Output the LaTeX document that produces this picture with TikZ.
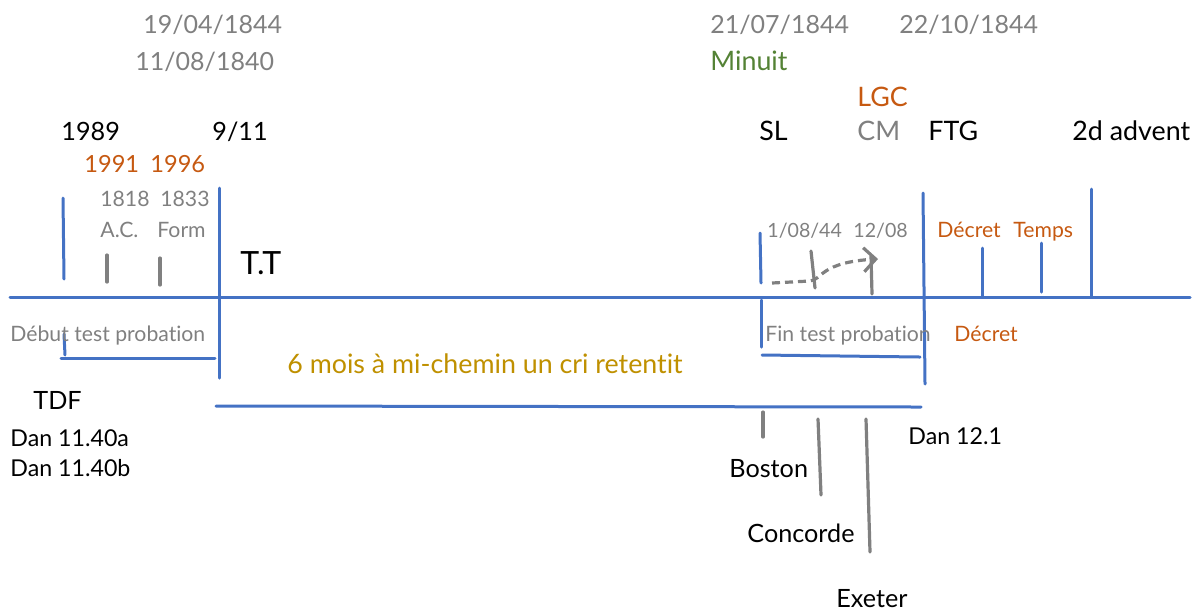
\documentclass[tikz,border=0pt]{standalone}
\usepackage{fontspec}
\setmainfont{Lato}[Ligatures=NoCommon]
\usetikzlibrary{arrows,arrows.meta,calc}
\usepackage{tkz-euclide}

\definecolor{bleu}{HTML}{4472C4}
\definecolor{gris}{HTML}{808080}
\definecolor{rouille}{HTML}{C65911}
\definecolor{ocre}{HTML}{BF9000}
\definecolor{vert}{HTML}{548235}

\tikzset{
  lbl/.style={inner sep=0pt,anchor=west,text height=1.8ex,text depth=0pt},
  date/.style={lbl,font=\fontsize{12.5}{15}\selectfont},
  grand/.style={lbl,font=\fontsize{13.4}{15}\selectfont},
  moyen/.style={lbl,font=\fontsize{12.6}{14}\selectfont},
  petit/.style={lbl,font=\fontsize{10.6}{12}\selectfont},
  trait gris/.style={line width=1.6pt,color=gris},
}

\begin{document}
\begin{tikzpicture}[x=.5pt,y=-.5pt]
\useasboundingbox (0,0) rectangle (1202,612);
\tkzSetUpLine[line width=1.5pt,color=bleu]

% axe et traits bleus
\tkzDefPoints{10/297/L,1190/297/R,
  63/198/A1,64/279/A2,219/188/B1,219/378/B2,
  64/334/C1,65/355/C2,61/358/D1,215/358/D2,
  216/406/E1,921/407/E2,
  760/233/F1,761/283/F2,761/300/G1,761/347/G2,
  762/355/H1,920/357/H2,923/193/K1,925/384/K2,
  982/248/M1,982/297/M2,1041/243/N1,1041/292/N2,
  1091/189/P1,1091/297/P2}
\tkzDrawSegments(L,R A1,A2 B1,B2 C1,C2 D1,D2 E1,E2 F1,F2 G1,G2 H1,H2 K1,K2 M1,M2 N1,N2 P1,P2)

% traits gris
\tkzDefPoints{107/255/S1,107/282/S2,160/258/T1,160/285/T2,
  811/251/U1,815/288/U2,871/256/V1,872/294/V2,
  772/283/Z1,810/281/Z2,822/280/Z3,820/262/Z4,878/259/Z5,
  763/412/W1,763/437/W2,818/419/X1,821/495/X2,866/419/Y1,870/552/Y2}
\tkzDrawSegments[trait gris](S1,S2 T1,T2 U1,U2 V1,V2 W1,W2 X1,X2 Y1,Y2)
\draw[trait gris,dash pattern=on 4pt off 2.5pt,-{Straight Barb[length=6pt,width=12pt]}]
  (Z1) -- (Z2) .. controls (Z3) and (Z4) .. (Z5);

% dates
\node[date,text=gris] (avril) at (143,24) {19/04/1844};
\node[date,text=gris] (aout) at (135,61) {11/08/1840};
\node[date,text=gris] (juillet) at (710,24) {21/07/1844};
\node[date,text=gris] (octobre) at (899,24) {22/10/1844};
\node[grand,text=vert] (minuit) at (710,61) {Minuit};
\node[grand,text=rouille] (lgc) at (857,97) {LGC};

% au-dessus de l'axe
\node[moyen] (a1989) at (61,131) {1989};
\node[moyen] (onze) at (212,131) {9/11};
\node[lbl,font=\fontsize{11.8}{14}\selectfont,text=rouille] (a1991) at (84,163) {1991};
\node[lbl,font=\fontsize{11.8}{14}\selectfont,text=rouille] (a1996) at (150,163) {1996};
\node[petit,text=gris] (a1818) at (100,197) {1818};
\node[petit,text=gris] (a1833) at (160,197) {1833};
\node[petit,text=gris] (ac) at (100,228) {A.C.};
\node[petit,text=gris] (form) at (157,228) {Form};
\node[lbl,font=\fontsize{16}{18}\selectfont] (tt) at (240,265) {T.T};
\node[grand] (sl) at (759,131) {SL};
\node[grand,text=gris] (cm) at (857,131) {CM};
\node[grand] (ftg) at (928,131) {FTG};
\node[grand] (advent) at (1072,131) {2d advent};
\node[lbl,font=\fontsize{9.8}{12}\selectfont,text=gris] (premier) at (767,228) {1/08/44};
\node[lbl,font=\fontsize{9.8}{12}\selectfont,text=gris] (douze) at (853,228) {12/08};
\node[petit,text=rouille] (decret) at (937,228) {Décret};
\node[petit,text=rouille] (temps) at (1013,228) {Temps};

% sous l'axe
\node[petit,text=gris] (debut) at (10,332) {Début test probation};
\node[petit,text=gris] (fin) at (765,332) {Fin test probation};
\node[petit,text=rouille] (decretb) at (954,332) {Décret};
\node[lbl,font=\fontsize{13.4}{15}\selectfont,text=ocre] (cri) at (287,364) {6 mois à mi-chemin un cri retentit};
\node[moyen] (tdf) at (33,400) {TDF};
\node[lbl,font=\fontsize{11.6}{13}\selectfont] (dana) at (10,437) {Dan 11.40a};
\node[lbl,font=\fontsize{11.6}{13}\selectfont] (danb) at (10,467) {Dan 11.40b};
\node[lbl,font=\fontsize{11.6}{13}\selectfont] (danc) at (908,435) {Dan 12.1};
\node[moyen] (boston) at (729,468) {Boston};
\node[moyen] (concorde) at (747,533) {Concorde};
\node[moyen] (exeter) at (836,598) {Exeter};

\end{tikzpicture}
\end{document}
